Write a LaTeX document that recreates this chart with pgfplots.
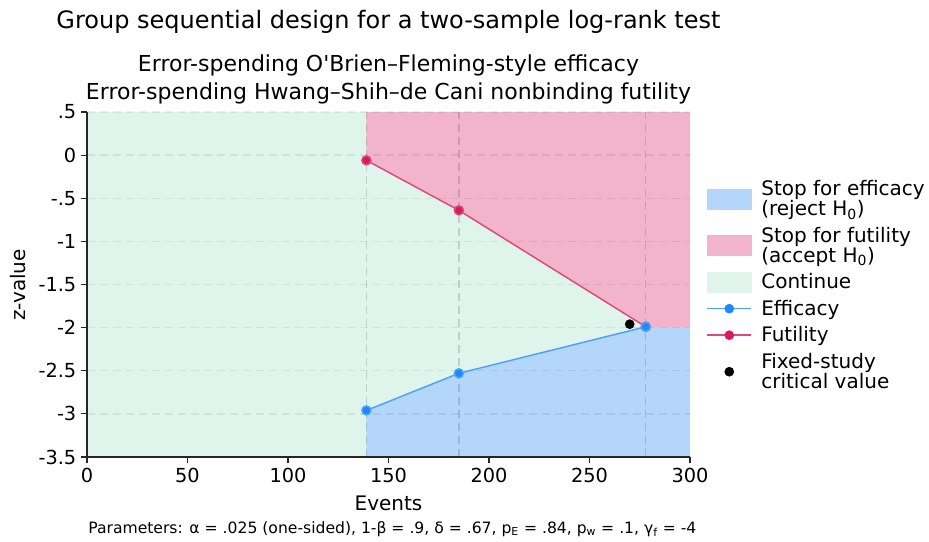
\documentclass[border=0pt]{standalone}
\usepackage{pgfplots}
\pgfplotsset{compat=1.18}
\usepackage{fontspec}
\setmainfont{DejaVu Sans}

\definecolor{c_cont}{HTML}{DFF5EC}
\definecolor{c_effarea}{HTML}{B5D6FB}
\definecolor{c_futarea}{HTML}{F1B4CB}
\definecolor{c_eff}{HTML}{1E88FF}
\definecolor{c_effline}{HTML}{4DA3F7}
\definecolor{c_fut}{HTML}{D81B60}
\definecolor{c_futline}{HTML}{E0487C}

\begin{document}
\begin{tikzpicture}
\begin{axis}[
  set layers,
  scale only axis, width=452.25pt, height=258.75pt,
  xmin=0, xmax=300, ymin=-3.5, ymax=0.5,
  axis x line*=bottom, axis y line*=left,
  axis line style={line width=1pt, black!85},
  tick align=outside, major tick length=4.5pt,
  tick style={line width=0.8pt, black!85},
  xtick={0,50,100,150,200,250,300},
  ytick={-3.5,-3,-2.5,-2,-1.5,-1,-0.5,0,0.5},
  yticklabels={-3.5,-3,-2.5,-2,-1.5,-1,-.5,0,.5},
  ticklabel style={font=\fontsize{14.5}{18}\selectfont},
  /pgf/number format/assume math mode=true,
  ymajorgrids, grid style={dash pattern=on 6pt off 3.75pt, black, opacity=0.07, line width=1pt},
  extra x ticks={139,185,278}, extra x tick labels={},
  extra x tick style={grid=major, major tick length=0pt,
    grid style={dash pattern=on 6pt off 3.75pt, black, opacity=0.14, line width=1pt}},
  legend cell align=left,
  legend style={draw=none, fill=none, inner sep=0pt,
    at={(axis description cs:1.027,0.81)}, anchor=north west,
    font=\fontsize{15}{15}\selectfont,
    nodes={align=left, inner sep=2pt},
    row sep=3pt,
    /tikz/every odd column/.append style={column sep=5pt}},
]
% legend images (all real plots below use forget plot)
\addlegendimage{legend image code/.code={\fill[c_effarea] (0pt,-7.5pt) rectangle (33pt,7.5pt);}}
\addlegendentry{Stop for efficacy\\(reject H\textsubscript{0})}
\addlegendimage{legend image code/.code={\fill[c_futarea] (0pt,-7.5pt) rectangle (33pt,7.5pt);}}
\addlegendentry{Stop for futility\\(accept H\textsubscript{0})}
\addlegendimage{legend image code/.code={\fill[c_cont] (0pt,-7.5pt) rectangle (33pt,7.5pt);}}
\addlegendentry{Continue}
\addlegendimage{legend image code/.code={\draw[c_effline, line width=1.1pt] (0pt,0pt) -- (33pt,0pt); \fill[c_eff] (16.5pt,0pt) circle (3.4pt);}}
\addlegendentry{Efficacy}
\addlegendimage{legend image code/.code={\draw[c_futline, line width=1.1pt] (0pt,0pt) -- (33pt,0pt); \fill[c_fut] (16.5pt,0pt) circle (3.4pt);}}
\addlegendentry{Futility}
\addlegendimage{legend image code/.code={\fill[black] (16.5pt,0pt) circle (3.4pt);}}
\addlegendentry{Fixed-study\\critical value}

% regions
\addplot[forget plot, on layer=axis background, fill=c_cont, draw=none]
  coordinates {(0,-3.5) (300,-3.5) (300,0.5) (0,0.5)} -- cycle;
\addplot[forget plot, on layer=axis background, fill=c_effarea, draw=none]
  coordinates {(139,-3.5) (139,-2.96) (185,-2.53) (278,-1.99) (300,-1.99) (300,-3.5)} -- cycle;
\addplot[forget plot, on layer=axis background, fill=c_futarea, draw=none]
  coordinates {(139,0.5) (139,-0.06) (185,-0.64) (278,-1.99) (300,-1.99) (300,0.5)} -- cycle;

% boundaries
\addplot[forget plot, c_futline, line width=1.1pt, mark=*, mark size=3.4pt,
  mark options={draw=none, fill=c_fut}]
  coordinates {(139,-0.06) (185,-0.64) (278,-1.99)};
\addplot[forget plot, c_effline, line width=1.1pt, mark=*, mark size=3.4pt,
  mark options={draw=none, fill=c_eff}]
  coordinates {(139,-2.96) (185,-2.53) (278,-1.99)};
\addplot[forget plot, only marks, mark=*, mark size=3.4pt, black]
  coordinates {(270,-1.96)};
\end{axis}

\node[font=\fontsize{18}{22}\selectfont] at (226.1pt,326.5pt)
  {Group sequential design for a two-sample log-rank test};
\node[font=\fontsize{16.5}{21}\selectfont, align=center] at (226.1pt,283.5pt)
  {Error-spending O\textquotesingle Brien–Fleming-style efficacy\\
   Error-spending Hwang–Shih–de Cani nonbinding futility};
\node[font=\fontsize{15}{18}\selectfont] at (226.1pt,-34.5pt) {Events};
\node[font=\fontsize{15}{18}\selectfont, rotate=90] at (-52pt,129pt) {z-value};
\node[font=\fontsize{11.7}{14}\selectfont] at (229pt,-54pt)
  {Parameters: α = .025 (one-sided), 1-β = .9, δ = .67, p\textsubscript{E} = .84, p\textsubscript{w} = .1, γ\textsubscript{f} = -4};
\path (-65.25pt,-60.75pt) rectangle (631.5pt,342.75pt);
\end{tikzpicture}
\end{document}
